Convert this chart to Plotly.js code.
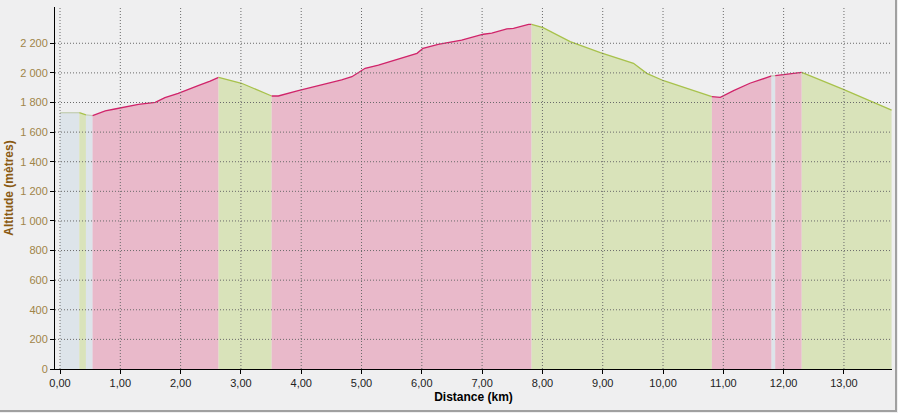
<!DOCTYPE html>
<html>
<head>
<meta charset="utf-8">
<script src="https://cdn.plot.ly/plotly-3.0.1.min.js"></script>
<style>
  html, body { margin: 0; padding: 0; background: #efeff0; }
  #wrap { position: relative; width: 898px; height: 413px; }
  #chart { width: 898px; height: 413px; }
  #frame { position: absolute; left: 0; top: 0; width: 895px; height: 410px;
           border-right: 2px solid #a0a0a0; border-bottom: 2px solid #a0a0a0; pointer-events: none; }
</style>
</head>
<body>
<div id="wrap"><div id="chart"></div><div id="frame"></div></div>
<script>
// Elevation profile
const distKm = [0.00, 0.32, 0.43, 0.54, 0.75, 0.91, 1.02, 1.30, 1.58, 1.74, 1.96, 2.13, 2.29, 2.49, 2.63,
                3.01, 3.51, 3.62, 3.95, 4.34, 4.67, 4.84, 5.06, 5.28, 5.56, 5.67, 5.92, 6.02, 6.27, 6.66,
                7.02, 7.16, 7.41, 7.52, 7.77, 7.82, 8.01, 8.46, 8.96, 9.51, 9.73, 10.01, 10.50, 10.81,
                10.95, 11.17, 11.44, 11.80, 11.86, 12.05, 12.30, 12.99, 13.79];
const altM   = [1731, 1731, 1716, 1711, 1743, 1756, 1765, 1788, 1801, 1833, 1862, 1891, 1914, 1945, 1970,
                1930, 1844, 1844, 1880, 1918, 1952, 1974, 2031, 2053, 2087, 2099, 2132, 2166, 2193, 2222,
                2261, 2268, 2297, 2301, 2328, 2328, 2306, 2211, 2137, 2065, 1997, 1947, 1878, 1839,
                1835, 1880, 1930, 1979, 1981, 1990, 2004, 1889, 1749];
// Segment boundaries (km) and type of each segment
const segBreaks = [0.00, 0.32, 0.43, 0.54, 2.63, 3.51, 7.82, 10.81, 11.80, 11.86, 12.30, 13.79];
const segKinds  = ['flat', 'down', 'flat', 'up', 'down', 'up', 'down', 'up', 'flat', 'up', 'down'];

const xTickVals = [0,1,2,3,4,5,6,7,8,9,10,11,12,13];
const xTickText = ['0,00','1,00','2,00','3,00','4,00','5,00','6,00','7,00','8,00','9,00','10,00','11,00','12,00','13,00'];
const yTickVals = [0,200,400,600,800,1000,1200,1400,1600,1800,2000,2200];
const yTickText = ['0','200','400','600','800','1 000','1 200','1 400','1 600','1 800','2 000','2 200'];

const styles = {
  up:   {fill: '#e9b9ca', line: '#d0246a'},
  down: {fill: '#d9e3ba', line: '#a8c24c'},
  flat: {fill: '#dde4ea', line: '#c5cfb5'}
};

const traces = [];
for (let s = 0; s < segKinds.length; s++) {
  const a = segBreaks[s], b = segBreaks[s + 1];
  const xs = [], ys = [];
  for (let i = 0; i < distKm.length; i++) {
    if (distKm[i] >= a - 1e-9 && distKm[i] <= b + 1e-9) { xs.push(distKm[i]); ys.push(altM[i]); }
  }
  const st = styles[segKinds[s]];
  traces.push({
    x: xs, y: ys, type: 'scatter', mode: 'lines', fill: 'tozeroy',
    fillcolor: st.fill, line: {color: st.line, width: 1.3}, hoverinfo: 'skip'
  });
}

const shapes = [];
xTickVals.forEach(v => shapes.push({type: 'line', xref: 'x', yref: 'paper', x0: v, x1: v, y0: 0, y1: 1,
  line: {color: '#6a6a6a', width: 1, dash: '1px,2px'}, layer: 'above'}));
yTickVals.filter(v => v > 0).forEach(v => shapes.push({type: 'line', xref: 'paper', yref: 'y', x0: 0, x1: 1, y0: v, y1: v,
  line: {color: '#6a6a6a', width: 1, dash: '1px,2px'}, layer: 'above'}));

const layout = {
  width: 898, height: 413,
  margin: {l: 55, r: 6, t: 7, b: 44},
  paper_bgcolor: '#efeff0', plot_bgcolor: '#efeff0',
  showlegend: false,
  font: {family: 'Liberation Sans, Arial, sans-serif', size: 11, color: '#222'},
  xaxis: {
    range: [-0.083, 13.797], showgrid: false, zeroline: false,
    showline: true, linecolor: '#000', linewidth: 1,
    ticks: 'outside', ticklen: 4, tickcolor: '#000',
    tickvals: xTickVals, ticktext: xTickText,
    tickfont: {size: 11, color: '#222'},
    title: {text: 'Distance (km)', font: {size: 12, color: '#000', weight: 'bold'}, standoff: 4}
  },
  yaxis: {
    range: [0, 2445], showgrid: false, zeroline: false,
    showline: true, linecolor: '#000', linewidth: 1,
    ticks: 'outside', ticklen: 4, tickcolor: '#000',
    tickvals: yTickVals, ticktext: yTickText,
    tickfont: {size: 11, color: '#a08448'},
    title: {text: 'Altitude (mètres)', font: {size: 12, color: '#8a5a12', weight: 'bold'}, standoff: 4}
  },
  shapes: shapes
};

Plotly.newPlot('chart', traces, layout, {staticPlot: true, displayModeBar: false});
</script>
</body>
</html>
